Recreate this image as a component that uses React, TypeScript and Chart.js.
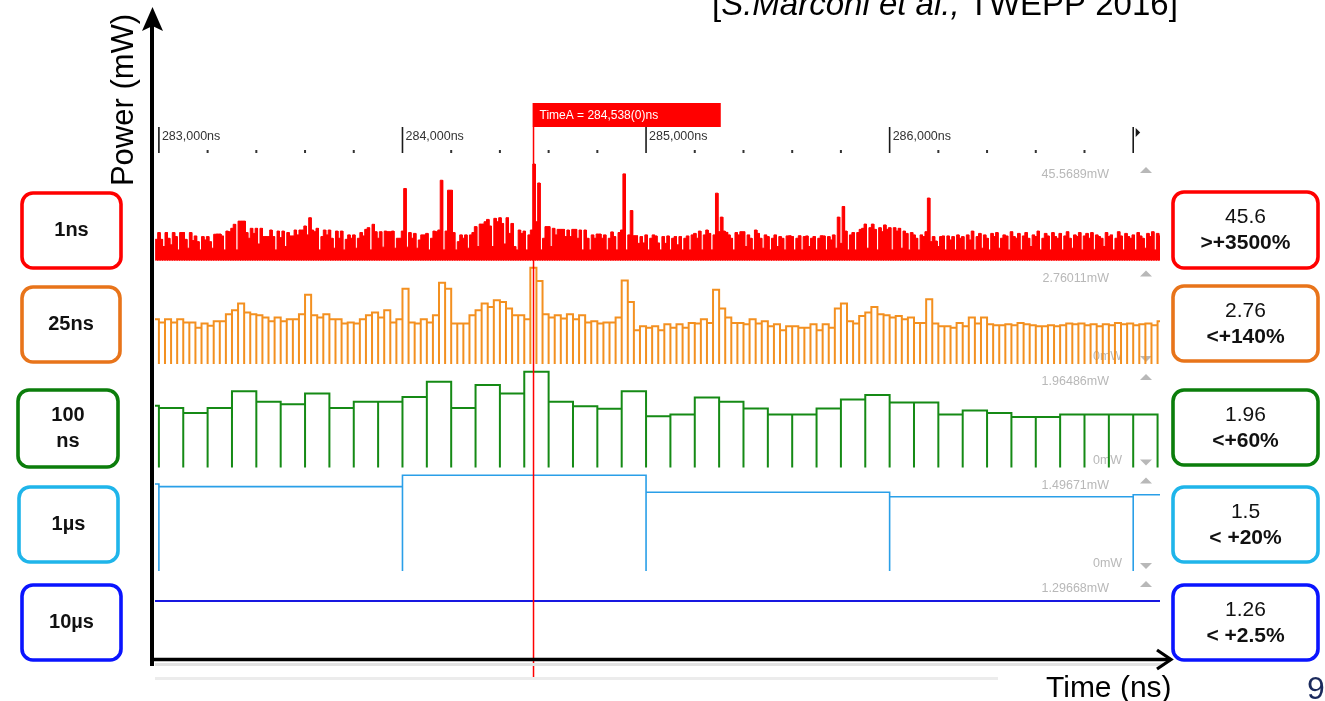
import React, { useEffect, useRef } from 'react';
import { Chart, registerables } from 'chart.js';

Chart.register(...registerables);

// ---------------- data ----------------
const X_MIN_NS = 282984;
const X_MAX_NS = 287110;
const CURSOR_NS = 284538;

const MAJOR_TICKS_NS = [283000, 284000, 285000, 286000, 287000];
const MAJOR_TICK_LABELS = ['283,000ns', '284,000ns', '285,000ns', '286,000ns', ''];
const MINOR_TICKS_NS = [
  283200, 283400, 283600, 283800, 284200, 284400, 284600, 284800,
  285200, 285400, 285600, 285800, 286200, 286400, 286600, 286800,
];

const ROW_NAMES = [['1ns'], ['25ns'], ['100', 'ns'], ['1µs'], ['10µs']];
const ROW_SCALE_MAX_MW = [45.5689, 2.76011, 1.96486, 1.49671, 1.29668];
const ROW_SCALE_LABELS = ['45.5689mW', '2.76011mW', '1.96486mW', '1.49671mW', '1.29668mW'];
const ROW_PEAK = ['45.6', '2.76', '1.96', '1.5', '1.26'];
const ROW_INCREASE = ['>+3500%', '<+140%', '<+60%', '< +20%', '< +2.5%'];
const ROW_BIN_NS = [10, 25, 100, 1000, 10000];
const ROW_START_NS = [282985, 282975, 282900, 282000, 280000];

// 1ns trace, shown as 10ns columns (mW)
const POWER_1NS = [
  10.0, 13.2, 10.0, 6.6, 13.2, 10.5, 7.4, 13.2, 11.3, 5.0,
  13.2, 13.2, 10.0, 5.8, 13.2, 9.4, 11.6, 8.9, 5.0, 11.3,
  9.7, 11.3, 8.9, 5.8, 12.4, 12.5, 12.5, 11.6, 5.0, 13.9,
  13.6, 15.2, 17.1, 5.0, 18.6, 18.6, 18.6, 13.2, 10.5, 15.2,
  12.8, 15.2, 7.8, 15.2, 11.3, 11.3, 11.3, 14.4, 11.3, 5.0,
  13.9, 10.8, 13.9, 6.6, 13.2, 11.6, 11.6, 14.4, 12.1, 14.4,
  14.4, 16.3, 12.1, 20.2, 14.4, 13.6, 15.2, 5.0, 11.3, 14.4,
  12.1, 14.4, 10.5, 5.8, 13.9, 10.5, 13.9, 5.0, 10.0, 12.1,
  10.5, 12.1, 5.8, 10.5, 13.2, 11.6, 14.7, 15.5, 5.0, 17.1,
  13.6, 10.5, 13.6, 6.3, 13.9, 13.6, 13.6, 13.9, 5.8, 10.5,
  10.5, 13.9, 34.0, 6.3, 13.2, 10.5, 12.8, 5.8, 9.7, 12.1,
  12.1, 12.8, 5.0, 10.5, 13.9, 13.6, 14.4, 37.9, 5.0, 13.9,
  33.2, 33.2, 13.2, 5.0, 8.9, 12.1, 10.5, 12.1, 5.8, 12.1,
  13.2, 16.0, 6.6, 17.2, 17.2, 18.3, 19.4, 16.3, 6.6, 19.9,
  18.3, 20.2, 17.5, 7.8, 20.2, 12.8, 17.5, 6.6, 5.0, 14.4,
  12.8, 13.9, 5.0, 12.1, 14.4, 45.57, 18.3, 36.6, 5.0, 10.5,
  16.0, 16.0, 6.6, 15.2, 12.1, 14.7, 14.7, 14.7, 11.3, 14.4,
  11.3, 14.7, 14.7, 10.5, 14.4, 5.0, 14.4, 10.5, 5.0, 12.1,
  10.5, 12.5, 12.5, 10.5, 12.1, 5.0, 10.5, 13.5, 11.3, 5.0,
  13.2, 14.4, 40.9, 5.0, 12.1, 23.6, 11.7, 11.7, 8.1, 11.3,
  8.3, 12.1, 5.0, 10.5, 12.1, 11.6, 8.3, 5.0, 11.3, 8.1,
  11.6, 5.0, 10.5, 11.3, 7.4, 11.3, 5.0, 10.5, 11.6, 5.0,
  12.1, 12.8, 10.5, 13.9, 5.0, 12.1, 14.4, 12.8, 5.0, 12.1,
  31.8, 13.6, 20.5, 13.9, 13.3, 12.1, 10.5, 5.0, 13.2, 12.1,
  13.6, 13.6, 6.6, 12.1, 10.5, 5.0, 14.4, 12.8, 10.5, 5.8,
  12.1, 11.3, 5.0, 10.5, 12.1, 6.6, 11.3, 10.5, 5.0, 11.6,
  11.7, 11.3, 5.0, 10.5, 11.7, 5.0, 11.3, 11.6, 6.6, 10.5,
  11.3, 5.0, 10.5, 11.7, 11.6, 5.0, 11.3, 9.7, 12.1, 5.8,
  20.5, 8.1, 25.5, 13.9, 5.0, 12.1, 13.2, 5.0, 13.2, 14.7,
  15.2, 17.2, 5.8, 15.5, 17.2, 14.7, 5.0, 15.5, 13.6, 16.8,
  14.7, 15.5, 5.0, 15.5, 13.9, 15.2, 5.8, 13.9, 12.8, 5.0,
  13.2, 12.1, 10.5, 5.0, 12.1, 11.3, 13.6, 29.5, 8.9, 11.3,
  9.2, 6.6, 11.3, 11.6, 5.0, 11.6, 9.7, 11.3, 5.0, 12.1,
  10.5, 11.3, 5.0, 12.1, 9.7, 13.9, 5.0, 11.3, 12.8, 5.8,
  12.1, 10.5, 5.0, 12.8, 11.3, 13.2, 5.8, 10.5, 12.1, 11.6,
  5.0, 13.6, 11.3, 10.5, 12.8, 5.0, 11.6, 13.2, 10.5, 6.6,
  12.1, 11.3, 13.9, 5.0, 10.5, 12.8, 11.6, 5.0, 13.2, 11.3,
  10.5, 12.8, 5.0, 11.6, 13.6, 10.5, 5.8, 12.1, 11.3, 13.2,
  5.0, 11.6, 12.8, 10.5, 13.2, 5.0, 12.1, 11.3, 10.5, 6.6,
  13.2, 11.3, 12.1, 5.0, 10.5, 13.6, 11.6, 5.0, 12.8, 11.3,
  10.5, 12.1, 5.0, 13.2, 11.6, 10.5, 5.8, 12.8, 11.3, 13.6,
  5.0, 12.8, 11.6,
];

// 25ns averages (mW), from 282,975ns
const POWER_25NS = [
  1.281, 1.186, 1.281, 1.186, 1.281, 1.186, 1.186, 1.034, 1.157, 1.091,
  1.224, 1.224, 1.423, 1.537, 1.727, 1.470, 1.423, 1.395, 1.328, 1.224,
  1.328, 1.224, 1.281, 1.281, 1.423, 1.983, 1.395, 1.328, 1.423, 1.281,
  1.281, 1.157, 1.186, 1.157, 1.281, 1.395, 1.470, 1.328, 1.537, 1.186,
  1.281, 2.153, 1.186, 1.157, 1.281, 1.186, 1.395, 2.324, 2.153, 1.157,
  1.157, 1.157, 1.395, 1.537, 1.727, 1.632, 1.821, 1.774, 1.584, 1.395,
  1.395, 1.281, 2.751, 2.372, 1.423, 1.328, 1.395, 1.300, 1.423, 1.281,
  1.395, 1.186, 1.224, 1.157, 1.186, 1.186, 1.328, 2.391, 1.774, 0.968,
  1.081, 1.034, 1.081, 0.968, 1.138, 1.034, 1.138, 1.034, 1.176, 1.157,
  1.281, 1.176, 2.125, 1.584, 1.328, 1.176, 1.176, 1.138, 1.281, 1.157,
  1.224, 1.081, 1.138, 0.968, 1.081, 1.081, 1.034, 1.034, 1.138, 0.968,
  1.138, 1.034, 1.584, 1.727, 1.224, 1.157, 1.376, 1.470, 1.632, 1.423,
  1.395, 1.328, 1.376, 1.281, 1.328, 1.176, 1.176, 1.850, 1.157, 1.081,
  1.081, 1.034, 1.176, 1.081, 1.328, 1.157, 1.328, 1.138, 1.110, 1.110,
  1.138, 1.110, 1.176, 1.138, 1.110, 1.081, 1.081, 1.110, 1.081, 1.110,
  1.157, 1.138, 1.157, 1.110, 1.138, 1.081, 1.138, 1.110, 1.176, 1.138,
  1.157, 1.110, 1.138, 1.157, 1.110, 1.224,
];

// 100ns averages (mW), from 282,900ns
const POWER_100NS = [
  1.255, 1.214, 1.112, 1.214, 1.555, 1.337, 1.289, 1.508, 1.214, 1.337,
  1.337, 1.433, 1.746, 1.214, 1.678, 1.508, 1.951, 1.337, 1.248, 1.194,
  1.555, 1.044, 1.078, 1.426, 1.337, 1.201, 1.078, 1.078, 1.201, 1.385,
  1.474, 1.323, 1.323, 1.078, 1.160, 1.112, 1.030, 1.030, 1.078, 1.078,
  1.078, 1.078,
];

// 1µs averages (mW), from 282,000ns
const POWER_1US = [1.349, 1.308, 1.484, 1.221, 1.152, 1.183];

// 10µs average (mW), from 280,000ns
const POWER_10US = [0.988];

const SERIES = [POWER_1NS, POWER_25NS, POWER_100NS, POWER_1US, POWER_10US];

// ---------------- styling / geometry ----------------
const W = 1325;
const H = 701;
const CHART_LEFT = 155;
const CHART_RIGHT = 1160;
const CHART_TOP = 160;
const BAND = 103.5;
const PAD_TOP = 4;
const DATA_H = 96.5;
const CHART_BOTTOM = CHART_TOP + 5 * BAND;

const TRACE_COLORS = ['#ff0000', '#f39020', '#158a15', '#2a9fe8', '#1818e0'];
const TRACE_WIDTHS = [1, 2, 2, 1.6, 2];
const BOX_COLORS = ['#ff0000', '#e8741a', '#0b7d0b', '#1fb5ea', '#0a14ff'];
const LEFT_BOXES = [
  [22, 193, 99, 75],
  [22, 287, 98, 75],
  [18, 390, 100, 77],
  [19, 487, 99, 75],
  [22, 585, 99, 75],
];
const RIGHT_BOXES = [
  [1173, 192, 145, 76],
  [1173, 286, 145, 75],
  [1173, 390, 145, 75],
  [1173, 487, 145, 75],
  [1173, 585, 145, 75],
];
const SANS = '"Liberation Sans", Arial, sans-serif';

function steps(start: number, bin: number, values: number[]) {
  const pts: { x: number; y: number }[] = [];
  values.forEach((v, i) => {
    const t = start + i * bin;
    pts.push({ x: t, y: 0 }, { x: t, y: v }, { x: t + bin, y: v });
  });
  pts.push({ x: start + values.length * bin, y: 0 });
  return pts;
}

function rowAxis(k: number) {
  const m = ROW_SCALE_MAX_MW[k];
  const zero = CHART_TOP + BAND * k + PAD_TOP + DATA_H;
  return {
    type: 'linear' as const,
    display: false,
    min: -((CHART_BOTTOM - zero) / DATA_H) * m,
    max: ((zero - CHART_TOP) / DATA_H) * m,
  };
}

const decorPlugin = {
  id: 'decor',
  beforeDatasetsDraw(chart: any) {
    const ctx: CanvasRenderingContext2D = chart.ctx;
    ctx.save();
    for (let k = 0; k < 5; k++) {
      const ys = chart.scales['y' + k];
      const top = ys.getPixelForValue(ROW_SCALE_MAX_MW[k]);
      const zero = ys.getPixelForValue(0);
      ctx.fillStyle = '#b8b8b8';
      ctx.font = '12.5px ' + SANS;
      ctx.textBaseline = 'middle';
      ctx.textAlign = 'right';
      ctx.fillText(ROW_SCALE_LABELS[k], 1109, top + 11);
      ctx.beginPath();
      ctx.moveTo(1140, top + 9);
      ctx.lineTo(1146, top + 3);
      ctx.lineTo(1152, top + 9);
      ctx.closePath();
      ctx.fill();
      if (k < 4) {
        ctx.textAlign = 'left';
        ctx.fillText('0mW', 1093, zero - 7);
        ctx.beginPath();
        ctx.moveTo(1140, zero - 8);
        ctx.lineTo(1152, zero - 8);
        ctx.lineTo(1146, zero - 2);
        ctx.closePath();
        ctx.fill();
      }
    }
    ctx.restore();
  },
  afterDatasetsDraw(chart: any) {
    const ctx: CanvasRenderingContext2D = chart.ctx;
    const xs = chart.scales.x;
    const cx = xs.getPixelForValue(CURSOR_NS);
    ctx.save();
    ctx.strokeStyle = '#ff0000';
    ctx.lineWidth = 1.5;
    ctx.beginPath();
    ctx.moveTo(cx, 103);
    ctx.lineTo(cx, 680);
    ctx.stroke();
    ctx.fillStyle = '#ff0000';
    ctx.fillRect(cx - 0.75, 103, 188, 24);
    ctx.fillStyle = '#ffffff';
    ctx.font = '12px ' + SANS;
    ctx.textAlign = 'left';
    ctx.textBaseline = 'middle';
    ctx.fillText('TimeA = ' + CURSOR_NS.toLocaleString('en-US') + '(0)ns', cx + 6, 115.5);
    ctx.restore();
  },
  afterDraw(chart: any) {
    const ctx: CanvasRenderingContext2D = chart.ctx;
    const xs = chart.scales.x;
    ctx.save();

    // top time ruler
    ctx.strokeStyle = '#1a1a1a';
    ctx.fillStyle = '#1a1a1a';
    ctx.lineWidth = 1.6;
    MAJOR_TICKS_NS.forEach((t, i) => {
      const px = xs.getPixelForValue(t);
      ctx.beginPath();
      ctx.moveTo(px, 127);
      ctx.lineTo(px, 153);
      ctx.stroke();
      if (MAJOR_TICK_LABELS[i]) {
        ctx.fillStyle = '#333333';
        ctx.font = '12.5px ' + SANS;
        ctx.textAlign = 'left';
        ctx.textBaseline = 'middle';
        ctx.fillText(MAJOR_TICK_LABELS[i], px + 3, 137);
      } else {
        ctx.fillStyle = '#1a1a1a';
        ctx.beginPath();
        ctx.moveTo(px + 2.5, 128);
        ctx.lineTo(px + 7, 132.5);
        ctx.lineTo(px + 2.5, 137);
        ctx.closePath();
        ctx.fill();
      }
    });
    ctx.fillStyle = '#333333';
    MINOR_TICKS_NS.forEach((t) => {
      const px = xs.getPixelForValue(t);
      ctx.fillRect(px - 1, 150, 2, 3);
    });

    // axes
    ctx.strokeStyle = '#e2e2e2';
    ctx.lineWidth = 3;
    ctx.beginPath();
    ctx.moveTo(155, 664.5);
    ctx.lineTo(1165, 664.5);
    ctx.stroke();
    ctx.strokeStyle = '#ececec';
    ctx.beginPath();
    ctx.moveTo(155, 678.5);
    ctx.lineTo(998, 678.5);
    ctx.stroke();

    ctx.strokeStyle = '#000000';
    ctx.fillStyle = '#000000';
    ctx.lineWidth = 4;
    ctx.beginPath();
    ctx.moveTo(152, 24);
    ctx.lineTo(152, 666);
    ctx.stroke();
    ctx.beginPath();
    ctx.moveTo(152.5, 7);
    ctx.lineTo(163, 31);
    ctx.lineTo(152.5, 26);
    ctx.lineTo(142, 31);
    ctx.closePath();
    ctx.fill();
    ctx.lineWidth = 3.5;
    ctx.beginPath();
    ctx.moveTo(150, 659.5);
    ctx.lineTo(1170, 659.5);
    ctx.stroke();
    ctx.lineWidth = 3.2;
    ctx.beginPath();
    ctx.moveTo(1157, 650);
    ctx.lineTo(1171, 659.5);
    ctx.lineTo(1157, 669);
    ctx.stroke();

    // row boxes
    for (let k = 0; k < 5; k++) {
      ctx.strokeStyle = BOX_COLORS[k];
      ctx.lineWidth = 3.6;
      const [lx, ly, lw, lh] = LEFT_BOXES[k];
      ctx.beginPath();
      ctx.roundRect(lx, ly, lw, lh, 11);
      ctx.stroke();
      const [rx, ry, rw, rh] = RIGHT_BOXES[k];
      ctx.beginPath();
      ctx.roundRect(rx, ry, rw, rh, 11);
      ctx.stroke();

      ctx.fillStyle = '#111111';
      ctx.textAlign = 'center';
      ctx.textBaseline = 'middle';
      ctx.font = 'bold 20px ' + SANS;
      const lines = ROW_NAMES[k];
      const cy = ly + lh / 2;
      if (lines.length === 1) {
        ctx.fillText(lines[0], lx + lw / 2, cy);
      } else {
        ctx.fillText(lines[0], lx + lw / 2, cy - 13);
        ctx.fillText(lines[1], lx + lw / 2, cy + 13);
      }
      ctx.font = '21px ' + SANS;
      ctx.fillText(ROW_PEAK[k], rx + rw / 2, ry + 25);
      ctx.font = 'bold 21px ' + SANS;
      ctx.fillText(ROW_INCREASE[k], rx + rw / 2, ry + 51);
    }

    // titles
    ctx.fillStyle = '#000000';
    ctx.textAlign = 'center';
    ctx.textBaseline = 'alphabetic';
    ctx.save();
    ctx.translate(133, 100);
    ctx.rotate(-Math.PI / 2);
    ctx.font = '31px ' + SANS;
    ctx.fillText('Power (mW)', 0, 0);
    ctx.restore();

    ctx.textAlign = 'left';
    ctx.font = '30px ' + SANS;
    ctx.fillText('Time (ns)', 1046, 697);

    ctx.font = 'italic 33px ' + SANS;
    let x = 712;
    ctx.font = '33px ' + SANS;
    ctx.fillText('[', x, 15);
    x += ctx.measureText('[').width;
    ctx.font = 'italic 33px ' + SANS;
    ctx.fillText('S.Marconi et al.,', x, 15);
    x += ctx.measureText('S.Marconi et al.,').width;
    ctx.font = '33px ' + SANS;
    ctx.fillText(' TWEPP 2016]', x, 15);

    ctx.fillStyle = '#1b2a5c';
    ctx.font = '32px ' + SANS;
    ctx.fillText('9', 1307, 699);

    ctx.restore();
  },
};

export default function App() {
  const ref = useRef<HTMLCanvasElement | null>(null);
  useEffect(() => {
    if (!ref.current) return;
    const scales: any = {
      x: { type: 'linear', display: false, min: X_MIN_NS, max: X_MAX_NS },
    };
    for (let k = 0; k < 5; k++) scales['y' + k] = rowAxis(k);
    const chart = new Chart(ref.current, {
      type: 'line',
      data: {
        datasets: SERIES.map((vals, k) => ({
          label: ROW_NAMES[k].join(''),
          data: steps(ROW_START_NS[k], ROW_BIN_NS[k], vals),
          yAxisID: 'y' + k,
          borderColor: TRACE_COLORS[k],
          backgroundColor: TRACE_COLORS[k],
          borderWidth: TRACE_WIDTHS[k],
          fill: k === 0 ? 'origin' : false,
          pointRadius: 0,
          tension: 0,
          clip: { left: 0, right: 0, top: false, bottom: false } as any,
        })),
      },
      options: {
        animation: false,
        responsive: false,
        devicePixelRatio: 1,
        events: [],
        layout: {
          padding: {
            left: CHART_LEFT,
            right: W - CHART_RIGHT,
            top: CHART_TOP,
            bottom: H - CHART_BOTTOM,
          },
        },
        plugins: { legend: { display: false }, tooltip: { enabled: false } },
        scales,
      },
      plugins: [decorPlugin],
    });
    return () => chart.destroy();
  }, []);
  return (
    <div style={{ position: 'absolute', left: 0, top: 0, width: W, height: H, background: '#ffffff' }}>
      <canvas ref={ref} width={W} height={H} style={{ display: 'block', width: W, height: H }} />
    </div>
  );
}
